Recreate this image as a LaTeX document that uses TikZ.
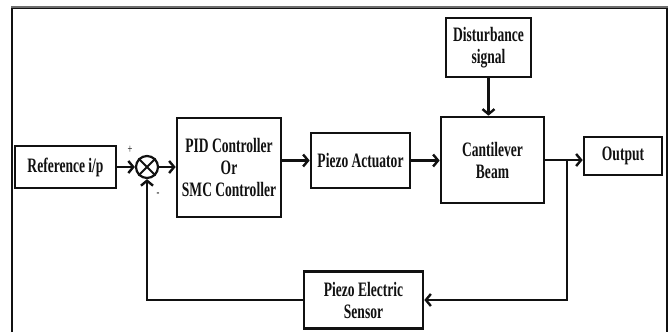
\documentclass[tikz,border=0pt]{standalone}
\usepackage{fontspec}
\setmainfont{Liberation Serif}[FakeStretch=0.66]
\usetikzlibrary{arrows.meta}
\definecolor{cbmInk}{HTML}{111111}
\definecolor{cbmRule}{HTML}{6E6E6E}
\tikzset{
  cbm box/.style={draw=cbmInk, line width=2.6pt, inner sep=0pt, align=center, font=\fontsize{20.5}{22}\selectfont\bfseries, text=cbmInk},
  cbm sum/.style={circle, draw=cbmInk, line width=2.2pt, minimum size=22pt, inner sep=0pt},
  cbm line/.style={draw=cbmInk, line width=2.4pt},
  cbm arrow/.style={cbm line, -{Straight Barb[length=5pt,width=12pt,line width=2.4pt]}},
  cbm sign/.style={font=\fontsize{13}{13}\selectfont, text=cbmInk},
}
\begin{document}
\begin{tikzpicture}[x=1pt,y=-1pt]
\useasboundingbox (0,0) rectangle (672,332);
% frame round the loop
\draw[cbmInk, line width=1.2pt] (12,332) -- (12,8) -- (667,8) -- (667,332);
\draw[cbmRule, line width=2pt] (11,7) -- (668,7);
% blocks
\node[cbm box, minimum width=101pt, minimum height=42pt] (ref) at (65.5,167) {Reference i/p};
\node[cbm sum] (sum) at (147,167) {};
\draw[cbm line, line width=2pt] (sum.north west) -- (sum.south east) (sum.north east) -- (sum.south west);
\node[cbm box, minimum width=104pt, minimum height=99pt] (pid) at (229,167.5) {PID Controller\\Or\\SMC Controller};
\node[cbm box, minimum width=99pt, minimum height=55pt] (act) at (360.5,160.5) {Piezo Actuator};
\node[cbm box, minimum width=103pt, minimum height=86pt] (beam) at (492.5,160) {Cantilever\\Beam};
\node[cbm box, minimum width=85pt, minimum height=59pt] (dist) at (488.5,47.5) {Disturbance\\signal};
\node[cbm box, minimum width=78pt, minimum height=38pt] (out) at (623,156) {Output};
\node[cbm box, minimum width=119pt, minimum height=57pt] (sensor) at (363.5,300) {Piezo Electric\\Sensor};
\node[cbm sign] (plus) at (130,150) {+};
\node[cbm sign] (minus) at (158,195) {-};
\coordinate (tap) at (567,160);
% forward path
\draw[cbm arrow] (ref) -- (sum);
\draw[cbm arrow] (sum) -- (pid.west |- sum);
\draw[cbm arrow] (pid.east |- act.west) -- (act.west);
\draw[cbm arrow] (act.east) -- (act.east -| beam.west);
\draw[cbm arrow] (beam.east |- tap) -- (tap -| out.west);
\draw[cbm arrow] (dist.south) -- (dist.south |- beam.north);
% feedback path
\draw[cbm arrow] (tap) |- (sensor.east);
\draw[cbm arrow] (sensor.west) -| (sum.south);
\end{tikzpicture}
\end{document}
